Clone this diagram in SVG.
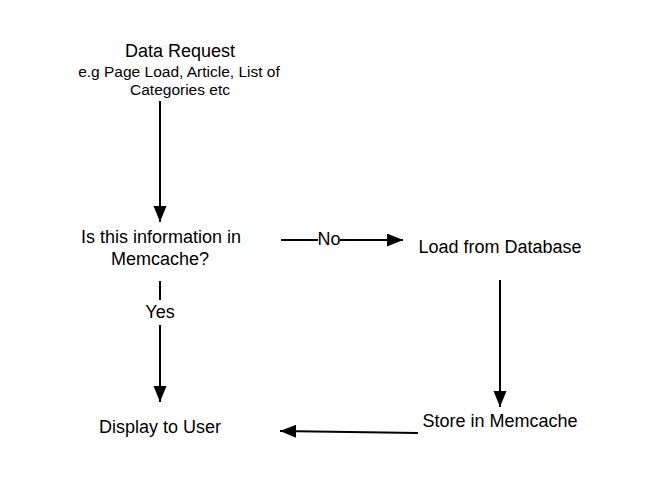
<svg xmlns="http://www.w3.org/2000/svg" width="660" height="500" viewBox="0 0 660 500">
<style>
text{font-family:"Liberation Sans",Arial,sans-serif;fill:#000;text-anchor:middle}
.big{font-size:18px}
.small{font-size:15.5px}
.edge{stroke:#000;stroke-width:2;fill:none}
</style>
<defs>
<marker id="ah" markerUnits="userSpaceOnUse" markerWidth="18" markerHeight="14" refX="16" refY="6.5" orient="auto">
<path d="M0,0 L16,6.5 L0,13 Z" fill="#000"/>
</marker>
</defs>
<rect width="660" height="500" fill="#fff"/>
<g id="connectors">
<path class="edge" d="M160,101 L160,222" marker-end="url(#ah)"/>
<path class="edge" d="M281,240 L403,240" marker-end="url(#ah)"/>
<rect x="318" y="230" width="22" height="20" fill="#fff"/>
<text class="big" x="329" y="245">No</text>
<path class="edge" d="M160,281 L160,402" marker-end="url(#ah)"/>
<rect x="144" y="300" width="32" height="25" fill="#fff"/>
<text class="big" x="160" y="318">Yes</text>
<path class="edge" d="M500,280 L500,407" marker-end="url(#ah)"/>
<path class="edge" d="M418,433 L280,431" marker-end="url(#ah)"/>
</g>
<g id="data-request">
<text class="big" x="180" y="57">Data Request</text>
<text class="small" x="179" y="77">e.g Page Load, Article, List of</text>
<text class="small" x="180" y="95">Categories etc</text>
</g>
<g id="in-memcache">
<text class="big" x="161" y="243">Is this information in</text>
<text class="big" x="160" y="265">Memcache?</text>
</g>
<g id="load-db">
<text class="big" x="500" y="253">Load from Database</text>
</g>
<g id="store-memcache">
<text class="big" x="500" y="427">Store in Memcache</text>
</g>
<g id="display-user">
<text class="big" x="160" y="433">Display to User</text>
</g>
</svg>
